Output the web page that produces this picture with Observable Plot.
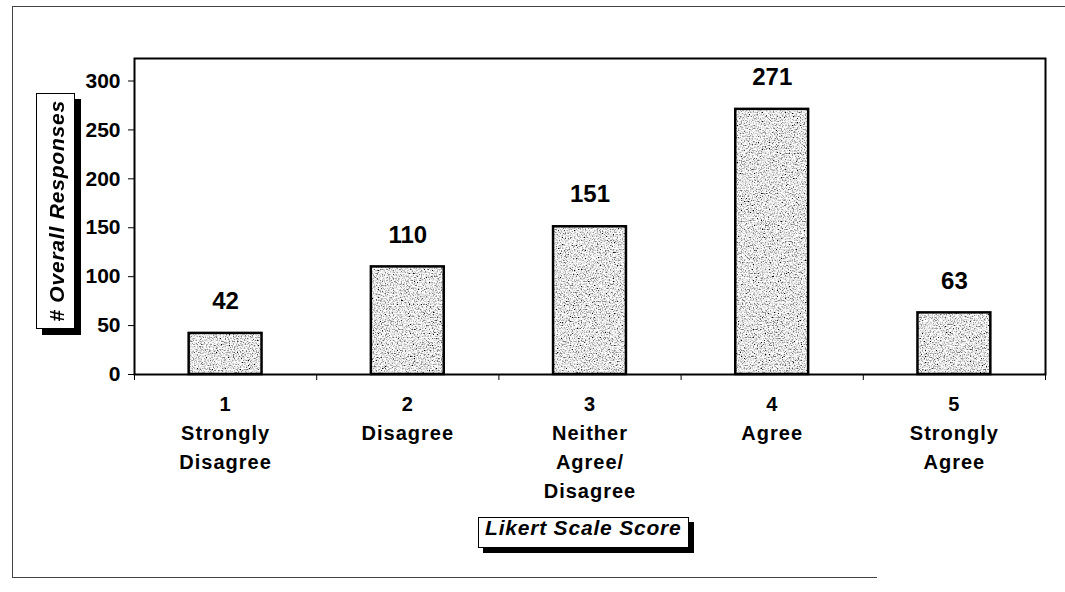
<!DOCTYPE html>
<html>
<head>
<meta charset="utf-8">
<script src="https://cdn.jsdelivr.net/npm/d3@7"></script>
<script src="https://cdn.jsdelivr.net/npm/@observablehq/plot@0.6"></script>
<style>
  html, body { margin: 0; padding: 0; background: #fff; }
  #wrap { position: relative; width: 1065px; height: 592px; overflow: hidden; background: #fff; }
  #wrap svg { position: absolute; left: 0; top: 0; }
  .deco { position: absolute; box-sizing: border-box; }
  .ttl { position: absolute; box-sizing: border-box; background: #fff; border: 1px solid #000;
         font-family: 'Liberation Sans', Arial, sans-serif; font-weight: bold; font-style: italic;
         font-size: 21px; letter-spacing: 0.8px; color: #000; }
</style>
</head>
<body>
<div id="wrap"></div>
<script>
// ---- data ----
const scores = [1, 2, 3, 4, 5];
const counts = [42, 110, 151, 271, 63];
const categoryNames = ["Strongly\nDisagree", "Disagree", "Neither\nAgree/\nDisagree", "Agree", "Strongly\nAgree"];
const yTicks = [0, 50, 100, 150, 200, 250, 300];
const xTitle = "Likert Scale Score";
const yTitle = "# Overall Responses";

const data = scores.map((s, i) => ({score: s, count: counts[i], label: s + "\n" + categoryNames[i]}));
const boundaries = [scores[0] - 0.5, ...scores.map(s => s + 0.5)];

const plot = Plot.plot({
  width: 1065,
  height: 592,
  marginLeft: 134,
  marginRight: 20,
  marginTop: 58,
  marginBottom: 218,
  x: {domain: [0.5, 5.5], axis: null},
  y: {domain: [0, 323], axis: null},
  style: {fontFamily: "'Liberation Sans', Arial, sans-serif", fontWeight: "bold", fontSize: "20px", color: "#000", background: "transparent"},
  marks: [
    Plot.rectY(data, {x1: d => d.score - 0.2, x2: d => d.score + 0.2, y: "count", fill: "#bbbbbb"}),
    Plot.rectY(data, {x1: d => d.score - 0.2, x2: d => d.score + 0.2, y: "count", fill: "none", stroke: "#000", strokeWidth: 2.5}),
    Plot.frame({stroke: "#000", strokeWidth: 2}),
    Plot.axisY({ticks: yTicks, tickSize: 6, tickPadding: 8, fontSize: 21, label: null, tickFormat: d => String(d)}),
    Plot.axisX({ticks: boundaries, tickSize: 6, label: null, tickFormat: () => ""}),
    Plot.text(data, {x: "score", y: "count", text: d => String(d.count), dy: -32, fontSize: 24, fontWeight: "bold"}),
    Plot.text(data, {x: "score", y: 0, text: "label", lineAnchor: "top", dy: 16, lineHeight: 1.45, fontSize: 20, fontWeight: "bold"})
  ]
});

// stipple texture for bars
const svg = d3.select(plot);
svg.insert("defs", ":first-child").html(`
  <filter id="stipple" filterUnits="objectBoundingBox" x="0" y="0" width="1" height="1">
    <feTurbulence type="fractalNoise" baseFrequency="0.75" numOctaves="2" seed="7" result="noise"/>
    <feColorMatrix in="noise" type="matrix"
      values="2.8 0 0 0 -0.6  2.8 0 0 0 -0.6  2.8 0 0 0 -0.6  0 0 0 0 1" result="grain"/>
    <feComposite in="grain" in2="SourceGraphic" operator="in"/>
  </filter>`);
const rectGroups = plot.querySelectorAll('g[aria-label="rect"]');
if (rectGroups.length) rectGroups[0].setAttribute("filter", "url(#stipple)");
const textGroups = plot.querySelectorAll('g[aria-label="text"]');
if (textGroups.length > 1) textGroups[1].style.letterSpacing = "1px";
plot.querySelectorAll('g[aria-label="y-axis tick label"]').forEach(g => { g.setAttribute("font-size", "21"); g.style.fontSize = "21px"; });

const wrap = document.getElementById("wrap");
wrap.appendChild(plot);

// outer border lines
const border = document.createElement("div");
border.className = "deco";
Object.assign(border.style, {left: "12px", top: "6px", width: "1053px", height: "571px", borderLeft: "1px solid #444", borderTop: "1px solid #444"});
wrap.appendChild(border);
const bottomLine = document.createElement("div");
bottomLine.className = "deco";
Object.assign(bottomLine.style, {left: "12px", top: "577px", width: "865px", height: "1px", borderTop: "1px solid #444"});
wrap.appendChild(bottomLine);

// y title box
const yBox = document.createElement("div");
yBox.className = "ttl";
Object.assign(yBox.style, {left: "36px", top: "93px", width: "39px", height: "236px", boxShadow: "6px 6px 0 #000",
  display: "flex", alignItems: "center", justifyContent: "center"});
const ySpan = document.createElement("span");
ySpan.textContent = yTitle;
Object.assign(ySpan.style, {writingMode: "vertical-rl", transform: "rotate(180deg)", whiteSpace: "nowrap", marginLeft: "2px"});
yBox.appendChild(ySpan);
wrap.appendChild(yBox);

// x title box
const xBox = document.createElement("div");
xBox.className = "ttl";
Object.assign(xBox.style, {left: "478px", top: "517px", width: "211px", height: "31px", boxShadow: "5px 5px 0 #000",
  paddingLeft: "6px", lineHeight: "20px", whiteSpace: "nowrap"});
xBox.textContent = xTitle;
wrap.appendChild(xBox);
</script>
</body>
</html>
